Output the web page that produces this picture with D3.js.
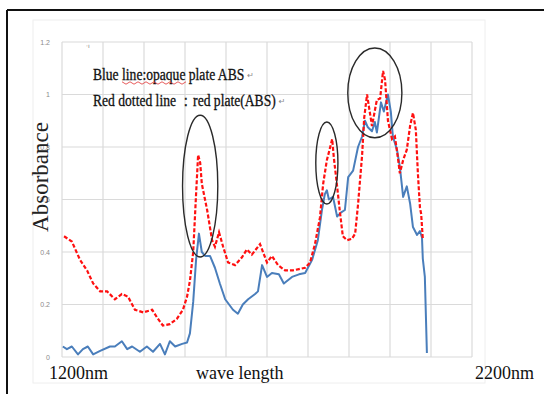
<!DOCTYPE html>
<html>
<head>
<meta charset="utf-8">
<script src="https://cdn.jsdelivr.net/npm/d3@7"></script>
<style>
  html, body { margin: 0; padding: 0; background: #fff; }
  svg { display: block; }
</style>
</head>
<body>
<div id="chart"></div>
<script>
// wavelength (nm) / absorbance
const redWave = [1205,1224,1244,1261,1276,1293,1310,1329,1346,1361,1378,1398,1420,1432,1446,1463,1480,1495,1505,1512,1520,1527,1532,1537,1541,1554,1566,1573,1583,1593,1605,1622,1639,1651,1663,1683,1700,1712,1727,1744,1763,1778,1793,1805,1817,1829,1837,1846,1851,1859,1863,1871,1878,1885,1895,1907,1915,1922,1932,1937,1944,1949,1956,1968,1976,1983,1988,1995,2005,2012,2020,2024,2032,2041,2049,2056,2063,2068,2073,2076,2080];
const redAbs  = [0.46,0.44,0.37,0.33,0.28,0.25,0.25,0.22,0.24,0.23,0.18,0.17,0.18,0.15,0.12,0.125,0.145,0.18,0.23,0.29,0.40,0.62,0.77,0.74,0.66,0.56,0.445,0.42,0.475,0.42,0.36,0.35,0.38,0.41,0.39,0.43,0.36,0.385,0.35,0.33,0.33,0.335,0.34,0.36,0.43,0.53,0.66,0.75,0.78,0.83,0.76,0.65,0.55,0.46,0.445,0.45,0.47,0.58,0.77,0.91,1.0,0.95,0.88,0.98,0.985,1.09,1.055,0.90,0.83,0.84,0.75,0.70,0.75,0.79,0.88,0.93,0.865,0.70,0.57,0.545,0.45];

const blueWave = [1202,1212,1224,1239,1251,1263,1276,1293,1317,1329,1346,1359,1371,1390,1407,1422,1439,1451,1463,1476,1493,1505,1512,1520,1527,1534,1541,1549,1561,1573,1585,1598,1617,1629,1641,1654,1671,1678,1688,1700,1712,1729,1741,1761,1778,1793,1810,1824,1834,1841,1846,1851,1861,1871,1880,1890,1898,1910,1922,1932,1939,1946,1956,1963,1968,1978,1985,1995,2002,2007,2017,2024,2032,2041,2049,2056,2066,2073,2078,2080,2085,2090];
const blueAbs  = [0.04,0.03,0.04,0.01,0.03,0.04,0.01,0.023,0.04,0.04,0.06,0.03,0.04,0.02,0.04,0.02,0.05,0.01,0.06,0.04,0.05,0.055,0.09,0.21,0.37,0.47,0.40,0.385,0.385,0.34,0.28,0.22,0.18,0.165,0.20,0.22,0.24,0.25,0.35,0.305,0.32,0.315,0.28,0.305,0.315,0.32,0.37,0.445,0.56,0.62,0.635,0.60,0.61,0.535,0.55,0.56,0.685,0.71,0.80,0.84,0.90,0.875,0.86,0.895,0.855,0.97,0.935,1.0,0.935,0.84,0.79,0.725,0.61,0.65,0.585,0.495,0.465,0.48,0.455,0.375,0.305,0.015];

const yTicks = [0, 0.2, 0.4, 0.6, 0.8, 1, 1.2];
const xGrid = [1200,1300,1400,1500,1600,1700,1800,1900,2000,2100,2200];

// circled peaks: centre (nm, abs) and half-widths (nm, abs)
const circles = [
  { cx: 1537, cy: 0.651, rx: 43, ry: 0.27 },
  { cx: 1846, cy: 0.739, rx: 27, ry: 0.156 },
  { cx: 1963, cy: 1.006, rx: 66, ry: 0.171 }
];

const legendLines = ["Blue line:opaque plate ABS", "Red dotted line \uFF1Ared plate(ABS)"];

const W = 544, H = 394;
const svg = d3.select("#chart").append("svg").attr("width", W).attr("height", H);

const x = d3.scaleLinear().domain([1200, 2200]).range([62, 472]);
const y = d3.scaleLinear().domain([0, 1.2]).range([357, 42]);

// faint chart-area border
svg.append("rect").attr("x", 33).attr("y", 20).attr("width", 452).attr("height", 363)
  .attr("fill", "none").attr("stroke", "#eeeeee");

// grid
svg.append("g").selectAll("line").data(yTicks).join("line")
  .attr("x1", x(1200)).attr("x2", x(2200))
  .attr("y1", d => y(d)).attr("y2", d => y(d))
  .attr("stroke", "#dadada").attr("stroke-width", 1.2);
svg.append("g").selectAll("line").data(xGrid).join("line")
  .attr("x1", d => x(d)).attr("x2", d => x(d))
  .attr("y1", y(0)).attr("y2", y(1.2))
  .attr("stroke", "#dadada").attr("stroke-width", 1.2);

svg.append("g").selectAll("text").data(yTicks).join("text")
  .attr("x", 50).attr("y", d => y(d) + 2.5)
  .attr("text-anchor", "end")
  .attr("font-family", "Liberation Sans, Arial, sans-serif")
  .attr("font-size", 7).attr("fill", "#8a8a8a")
  .text(d => d);

// series
const line = d3.line().x(d => x(d[0])).y(d => y(d[1]));
svg.append("path")
  .datum(blueWave.map((w, i) => [w, blueAbs[i]]))
  .attr("d", line).attr("fill", "none")
  .attr("stroke", "#4a7ebb").attr("stroke-width", 2).attr("stroke-linejoin", "round");
svg.append("path")
  .datum(redWave.map((w, i) => [w, redAbs[i]]))
  .attr("d", line).attr("fill", "none")
  .attr("stroke", "#ff1010").attr("stroke-width", 2.2)
  .attr("stroke-dasharray", "4 2");

// circles round the peaks
svg.append("g").selectAll("ellipse").data(circles).join("ellipse")
  .attr("cx", d => x(d.cx)).attr("cy", d => y(d.cy))
  .attr("rx", d => x(d.cx + d.rx) - x(d.cx))
  .attr("ry", d => y(d.cy - d.ry) - y(d.cy))
  .attr("fill", "none").attr("stroke", "#2a2a2a").attr("stroke-width", 1.4);

// legend text: condensed by a horizontal squeeze, return mark placed after it
const serif = "Liberation Serif, Times New Roman, serif";
const squeeze = 0.85;
const leg = svg.append("g");
const legText = leg.append("g").attr("transform", `translate(93,0) scale(${squeeze},1)`);
legendLines.forEach((t, i) => {
  const tx = legText.append("text").attr("x", 0).attr("y", 80 + i * 26)
    .attr("font-family", serif).attr("font-size", 16).attr("fill", "#111")
    .attr("stroke", "#111").attr("stroke-width", 0.3)
    .text(t);
  const wEnd = 93 + tx.node().getComputedTextLength() * squeeze;
  leg.append("text").attr("x", wEnd + 3).attr("y", 78 + i * 26)
    .attr("font-family", "DejaVu Sans, sans-serif").attr("font-size", 8).attr("fill", "#888")
    .text("\u21B5");
});
// spell-check squiggle under "line:opaque"
const sq = d3.range(0, 17).map(i => [122 + i * 4, 83 + (i % 2 ? 1.2 : -1.2)]);
leg.append("path").attr("d", d3.line()(sq)).attr("fill", "none")
  .attr("stroke", "#e03030").attr("stroke-width", 0.8);
leg.append("text").attr("x", 86).attr("y", 48)
  .attr("font-family", "DejaVu Sans, sans-serif").attr("font-size", 6).attr("fill", "#777")
  .text("\u00B7\u0131");

// axis titles
svg.append("text").attr("transform", "translate(48,177) rotate(-90)")
  .attr("text-anchor", "middle").attr("font-family", serif)
  .attr("font-size", 23).attr("fill", "#222").text("Absorbance");
svg.append("text").attr("x", 49).attr("y", 379)
  .attr("font-family", serif).attr("font-size", 18).attr("fill", "#111").text("1200nm");
svg.append("text").attr("x", 196).attr("y", 379)
  .attr("font-family", serif).attr("font-size", 18).attr("fill", "#111").text("wave length");
svg.append("text").attr("x", 475).attr("y", 379)
  .attr("font-family", serif).attr("font-size", 18).attr("fill", "#111").text("2200nm");

// outer frame
svg.append("line").attr("x1", 7).attr("x2", W).attr("y1", 10).attr("y2", 10)
  .attr("stroke", "#111").attr("stroke-width", 2);
svg.append("line").attr("x1", 7).attr("x2", 7).attr("y1", 10).attr("y2", H)
  .attr("stroke", "#111").attr("stroke-width", 2);
</script>
</body>
</html>
